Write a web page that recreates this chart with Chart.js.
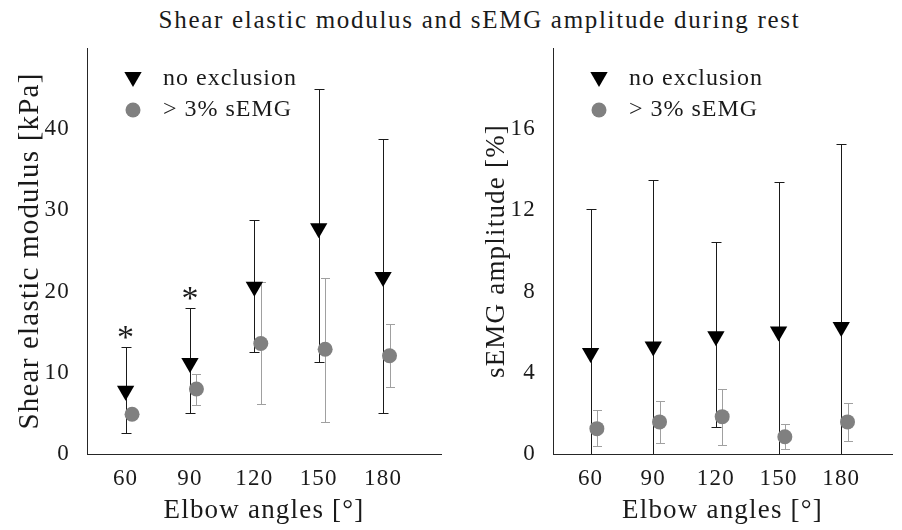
<!DOCTYPE html>
<html>
<head>
<meta charset="utf-8">
<script src="https://cdn.jsdelivr.net/npm/chart.js@4.4.1/dist/chart.umd.min.js"></script>
<style>
  body { margin: 0; background: #fff; width: 902px; height: 530px; position: relative; overflow: hidden; font-family: "Liberation Serif", serif; }
  #title { position: absolute; top: 6px; left: 0; width: 959px; text-align: center; font-size: 25px; letter-spacing: 1.7px; color: #1a1a1a; white-space: nowrap; }
  canvas { position: absolute; top: 0; }
</style>
</head>
<body>
<div id="title">Shear elastic modulus and sEMG amplitude during rest</div>
<canvas id="left" width="451" height="530" style="left:0"></canvas>
<canvas id="right" width="451" height="530" style="left:451px"></canvas>
<script>
// elbow angles and tick labels
const angles = [60, 90, 120, 150, 180];
const leftTicks = [0, 10, 20, 30, 40];
const rightTicks = [0, 4, 8, 12, 16];

// shear elastic modulus [kPa]
const modulusAll = [7.8, 11.2, 20.6, 27.8, 21.8];
const modulusAllLow = [2.6, 5.0, 12.6, 11.3, 5.0];
const modulusAllHigh = [13.2, 18.0, 28.8, 45.0, 38.8];
const modulusExcl = [4.9, 8.0, 13.6, 12.9, 12.1];
const modulusExclLow = [4.5, 6.0, 6.1, 4.0, 8.3];
const modulusExclHigh = [5.3, 9.8, 21.2, 21.7, 16.0];
const significant = [true, true, false, false, false];

// sEMG amplitude [%]
const emgAll = [4.97, 5.3, 5.8, 6.04, 6.26];
const emgAllLow = [-2.1, -2.9, 1.34, -1.3, -2.75];
const emgAllHigh = [12.05, 13.5, 10.45, 13.4, 15.27];
const emgExcl = [1.25, 1.58, 1.84, 0.85, 1.58];
const emgExclLow = [0.39, 0.54, 0.46, 0.25, 0.62];
const emgExclHigh = [2.15, 2.6, 3.2, 1.48, 2.51];

const SHIFT = 3; // gray markers sit a little right of the angle
const FONT = '"Liberation Serif", serif';
const TXT = '#1a1a1a';

function drawTriangle(ctx, x, y, r) {
  ctx.beginPath();
  ctx.moveTo(x, y + r);
  ctx.lineTo(x - 0.866 * r, y - 0.5 * r);
  ctx.lineTo(x + 0.866 * r, y - 0.5 * r);
  ctx.closePath();
  ctx.fill();
}

const errorBars = {
  id: 'errorBars',
  beforeDraw(chart) {
    chart.ctx.letterSpacing = '1.2px';
  },
  beforeDatasetsDraw(chart) {
    const { ctx, chartArea, scales: { x, y } } = chart;
    ctx.save();
    ctx.beginPath();
    ctx.rect(chartArea.left, chartArea.top - 20, chartArea.width, chartArea.height + 20);
    ctx.clip();
    chart.data.datasets.forEach(ds => {
      ctx.strokeStyle = ds.barColor;
      ctx.lineWidth = 1;
      ds.data.forEach((p, i) => {
        const px = Math.round(x.getPixelForValue(p.x)) + 0.5;
        const lo = Math.round(y.getPixelForValue(ds.low[i])) + 0.5;
        const hi = Math.round(y.getPixelForValue(ds.high[i])) + 0.5;
        ctx.beginPath();
        ctx.moveTo(px, lo); ctx.lineTo(px, hi);
        ctx.moveTo(px - ds.cap, lo); ctx.lineTo(px + ds.cap, lo);
        ctx.moveTo(px - ds.cap, hi); ctx.lineTo(px + ds.cap, hi);
        ctx.stroke();
      });
    });
    ctx.restore();
  },
  afterDraw(chart) {
    const { ctx, chartArea, scales: { x, y } } = chart;
    ctx.save();
    // legend
    const lx = chartArea.left + 46;
    const tx = chartArea.left + 76;
    const rows = [chartArea.top + 31, chartArea.top + 62];
    ctx.font = '24px ' + FONT;
    ctx.letterSpacing = '1px';
    ctx.textBaseline = 'middle';
    ctx.textAlign = 'left';
    chart.data.datasets.forEach((ds, k) => {
      ctx.fillStyle = ds.backgroundColor;
      if (ds.pointStyle === 'triangle') drawTriangle(ctx, lx, rows[k] - 2, ds.pointRadius);
      else { ctx.beginPath(); ctx.arc(lx, rows[k], ds.pointRadius, 0, Math.PI * 2); ctx.fill(); }
      ctx.fillStyle = TXT;
      ctx.fillText(ds.label, tx, rows[k]);
    });
    // significance marks
    const marks = chart.options.plugins.errorBars.marks;
    if (marks) {
      const ds = chart.data.datasets[0];
      ctx.font = '34px ' + FONT;
      ctx.letterSpacing = '0px';
      ctx.textAlign = 'center';
      ctx.textBaseline = 'alphabetic';
      marks.forEach((m, i) => {
        if (!m) return;
        const px = x.getPixelForValue(ds.data[i].x);
        const py = y.getPixelForValue(ds.high[i]);
        ctx.fillText('*', px, py + 1);
      });
    }
    ctx.restore();
  }
};

function makeChart(id, allVals, allLow, allHigh, exVals, exLow, exHigh, yMax, yTicks, yTitle, yTitleSize, yWidth, titlePad, xMax, padRight, marks) {
  return new Chart(document.getElementById(id), {
    type: 'scatter',
    data: {
      datasets: [
        {
          label: 'no exclusion',
          data: angles.map((a, i) => ({ x: a, y: allVals[i] })),
          low: allLow, high: allHigh, barColor: '#1a1a1a', cap: 5,
          pointStyle: 'triangle', rotation: 180, pointRadius: 10,
          backgroundColor: '#000', borderColor: '#000', borderWidth: 0
        },
        {
          label: '> 3% sEMG',
          data: angles.map((a, i) => ({ x: a + SHIFT, y: exVals[i] })),
          low: exLow, high: exHigh, barColor: '#a0a0a0', cap: 4.5,
          pointStyle: 'circle', pointRadius: 7.5,
          backgroundColor: '#808080', borderColor: '#808080', borderWidth: 0
        }
      ]
    },
    options: {
      responsive: false,
      animation: false,
      layout: { padding: { top: 48, right: padRight, left: 0, bottom: 0 } },
      plugins: {
        legend: { display: false },
        tooltip: { enabled: false },
        errorBars: { marks: marks }
      },
      scales: {
        x: {
          type: 'linear', min: 42, max: xMax,
          grid: { display: false },
          border: { display: true, color: '#262626', width: 1 },
          afterBuildTicks: s => { s.ticks = angles.map(v => ({ value: v })); },
          afterFit: s => { s.height = 76; },
          ticks: { color: TXT, font: { family: FONT, size: 23 }, padding: 3, maxRotation: 0 },
          title: { display: true, text: 'Elbow angles [°]', color: TXT, font: { family: FONT, size: 27 }, padding: { top: 0, bottom: 3 } }
        },
        y: {
          min: 0, max: yMax,
          grid: { display: false },
          border: { display: true, color: '#262626', width: 1 },
          afterBuildTicks: s => { s.ticks = yTicks.map(v => ({ value: v })); },
          afterFit: s => { s.width = yWidth; },
          ticks: { color: TXT, font: { family: FONT, size: 23 }, padding: 9 },
          title: { display: true, text: yTitle, color: TXT, font: { family: FONT, size: yTitleSize }, padding: { top: titlePad, bottom: 0 } }
        }
      }
    },
    plugins: [errorBars]
  });
}

makeChart('left', modulusAll, modulusAllLow, modulusAllHigh, modulusExcl, modulusExclLow, modulusExclHigh,
  50, leftTicks, 'Shear elastic modulus [kPa]', 29, 87, 13, 207, 9, significant);
makeChart('right', emgAll, emgAllLow, emgAllHigh, emgExcl, emgExclLow, emgExclHigh,
  20, rightTicks, 'sEMG amplitude [%]', 27, 102, 30, 204.3, 0, null);
</script>
</body>
</html>
